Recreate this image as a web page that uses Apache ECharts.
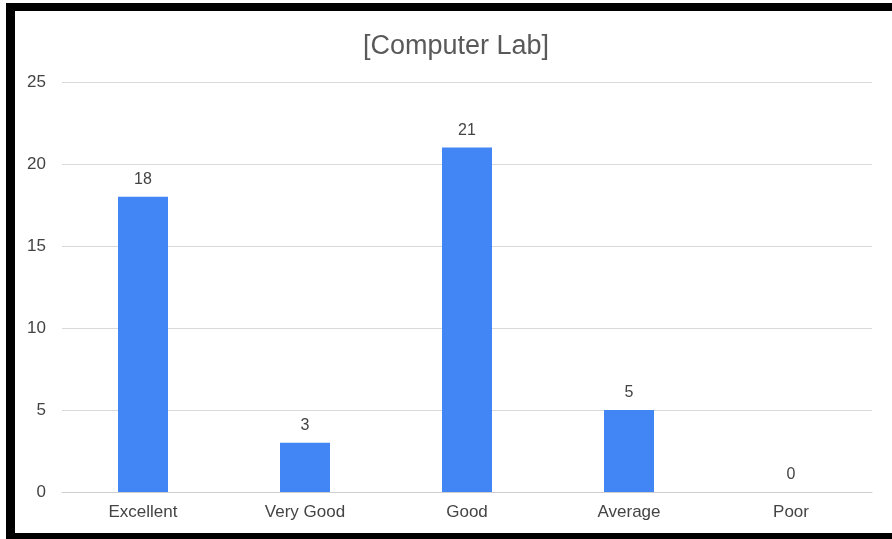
<!DOCTYPE html>
<html><head><meta charset="utf-8">
<script src="https://cdn.jsdelivr.net/npm/echarts@6/dist/echarts.min.js"></script>
<style>
html,body{margin:0;padding:0;background:#fff;}
#c{width:892px;height:539px;position:absolute;left:0;top:0;}
#frame{position:absolute;left:6px;top:3px;width:886px;height:536px;border-left:9px solid #000;border-top:8px solid #000;border-bottom:6px solid #000;box-sizing:border-box;pointer-events:none;}
</style></head>
<body>
<div id="c"></div>
<div id="frame"></div>
<script>
const title = "[Computer Lab]";
const categories = ["Excellent", "Very Good", "Good", "Average", "Poor"];
const values = [18, 3, 21, 5, 0];
const yTicks = { min: 0, max: 25, interval: 5 };

const chart = echarts.init(document.getElementById('c'), null, { renderer: 'canvas' });
const font = 'Liberation Sans, Arial, sans-serif';
chart.setOption({
  animation: false,
  backgroundColor: 'transparent',
  title: {
    text: title, left: 358, top: 28,
    textStyle: { fontFamily: font, fontSize: 27, fontWeight: 'normal', color: '#595959' }
  },
  grid: { left: 62, right: 20, top: 82, bottom: 47 },
  xAxis: {
    type: 'category', data: categories,
    axisLine: { lineStyle: { color: '#cfcfcf', width: 1 } },
    axisTick: { show: false },
    axisLabel: { fontFamily: font, fontSize: 17, color: '#444', margin: 12 }
  },
  yAxis: {
    type: 'value', min: yTicks.min, max: yTicks.max, interval: yTicks.interval,
    axisLine: { show: false }, axisTick: { show: false },
    splitLine: { lineStyle: { color: '#d9d9d9', width: 1 } },
    axisLabel: { fontFamily: font, fontSize: 17, color: '#444', margin: 16 }
  },
  series: [{
    type: 'bar', data: values, barWidth: 50,
    itemStyle: { color: '#4285F4' },
    label: { show: true, position: 'top', distance: 9, fontFamily: font, fontSize: 16, color: '#444' }
  }]
});
</script>
</body></html>
